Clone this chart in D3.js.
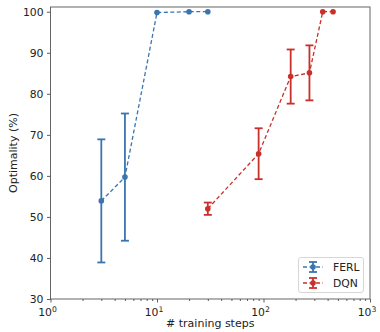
<!DOCTYPE html>
<html><head><meta charset="utf-8">
<script src="https://cdn.jsdelivr.net/npm/d3@7"></script>
<style>body{margin:0;background:#fff}svg{display:block;font-family:"DejaVu Sans",sans-serif}</style>
</head><body><svg id="c" width="380" height="332"></svg>
<script>
const ferlX = [3, 5, 10, 20, 30];
const ferlY = [53.9, 59.7, 99.8, 100, 100];
const ferlErr = [15, 15.5, 0, 0, 0];
const dqnX = [30, 90, 180, 270, 360, 450];
const dqnY = [52, 65.4, 84.2, 85.1, 100, 100];
const dqnErr = [1.5, 6.2, 6.6, 6.7, 0, 0];
const yTicks = [30, 40, 50, 60, 70, 80, 90, 100];
const xTicks = [1, 10, 100, 1000];
const seriesNames = ["FERL", "DQN"];
const colors = ["#3a75b0", "#c9302c"];

const svg = d3.select("#c");
const L = 50.5, R = 370, T = 7, B = 299;
const x = d3.scaleLog().domain([1, 1000]).range([L, R]);
const y = d3.scaleLinear().domain([30, 101.15]).range([B, T]);

// axes
svg.append("g").attr("transform", `translate(0,${B})`)
  .call(d3.axisBottom(x).tickValues(xTicks).tickSize(3.5).tickFormat(() => ""));
const minor = [];
for (let d = 1; d < 1000; d *= 10) for (let k = 2; k <= 9; k++) minor.push(d * k);
svg.append("g").attr("transform", `translate(0,${B})`)
  .call(d3.axisBottom(x).tickValues(minor).tickSize(2).tickFormat(() => ""));
const ya = svg.append("g").attr("transform", `translate(${L},0)`)
  .call(d3.axisLeft(y).tickValues(yTicks).tickSize(3.5).tickPadding(3.5));
svg.selectAll(".tick line").attr("stroke", "#333").attr("stroke-width", 0.8);
svg.selectAll(".domain").remove();
ya.selectAll("text").attr("font-size", 10.8).attr("fill", "#222").attr("font-family", "DejaVu Sans");

// x tick labels 10^n
xTicks.forEach((v, i) => {
  const t = svg.append("text").attr("x", x(v) - 3).attr("y", B + 17).attr("text-anchor", "middle")
    .attr("font-size", 10.8).attr("fill", "#222");
  t.append("tspan").text("10");
  t.append("tspan").attr("font-size", 7.7).attr("dy", -4.5).text(i);
});

// frame
svg.append("rect").attr("x", L).attr("y", T).attr("width", R - L).attr("height", B - T)
  .attr("fill", "none").attr("stroke", "#555").attr("stroke-width", 0.9);

svg.append("text").attr("x", (L + R) / 2).attr("y", 327).attr("text-anchor", "middle")
  .attr("font-size", 11).attr("fill", "#222").text("# training steps");
svg.append("text").attr("transform", `translate(17,${(T + B) / 2}) rotate(-90)`).attr("text-anchor", "middle")
  .attr("font-size", 11).attr("fill", "#222").text("Optimality (%)");

function series(xs, ys, es, col) {
  const g = svg.append("g");
  const line = d3.line().x((d, i) => x(xs[i])).y(d => y(d));
  g.append("path").attr("d", line(ys)).attr("fill", "none").attr("stroke", col)
    .attr("stroke-width", 1.3).attr("stroke-dasharray", "4,2.5");
  ys.forEach((v, i) => {
    if (es[i] > 0) {
      const cx = x(xs[i]);
      g.append("line").attr("x1", cx).attr("x2", cx).attr("y1", y(v - es[i])).attr("y2", y(v + es[i]))
        .attr("stroke", col).attr("stroke-width", 1.8);
      [v - es[i], v + es[i]].forEach(e => g.append("line").attr("x1", cx - 4).attr("x2", cx + 4)
        .attr("y1", y(e)).attr("y2", y(e)).attr("stroke", col).attr("stroke-width", 1.8));
    }
    g.append("circle").attr("cx", x(xs[i])).attr("cy", y(v)).attr("r", 2.8).attr("fill", col);
  });
}
series(ferlX, ferlY, ferlErr, colors[0]);
series(dqnX, dqnY, dqnErr, colors[1]);

// legend
const lg = svg.append("g");
lg.append("rect").attr("x", 298.5).attr("y", 257.5).attr("width", 65).attr("height", 35).attr("rx", 2.5)
  .attr("fill", "#fff").attr("fill-opacity", 0.8).attr("stroke", "#ccc").attr("stroke-width", 0.8);
seriesNames.forEach((n, i) => {
  const yy = 267 + i * 16, col = colors[i];
  lg.append("line").attr("x1", 303).attr("x2", 323).attr("y1", yy).attr("y2", yy).attr("stroke", col)
    .attr("stroke-width", 1.3).attr("stroke-dasharray", "4,2.5");
  lg.append("line").attr("x1", 313).attr("x2", 313).attr("y1", yy - 5).attr("y2", yy + 5).attr("stroke", col).attr("stroke-width", 1.8);
  [yy - 5, yy + 5].forEach(e => lg.append("line").attr("x1", 309).attr("x2", 317).attr("y1", e).attr("y2", e)
    .attr("stroke", col).attr("stroke-width", 1.8));
  lg.append("circle").attr("cx", 313).attr("cy", yy).attr("r", 2.8).attr("fill", col);
  lg.append("text").attr("x", 333).attr("y", yy + 4).attr("font-size", 10.8).attr("fill", "#222").text(n);
});
</script></body></html>
